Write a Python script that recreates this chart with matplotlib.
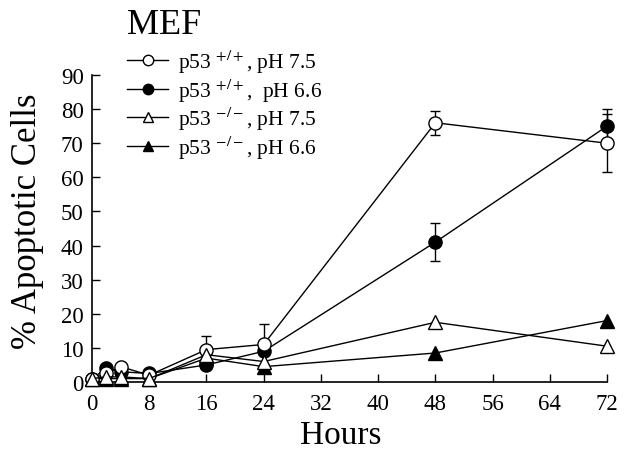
import matplotlib
matplotlib.use("Agg")
import matplotlib.pyplot as plt
from matplotlib.lines import Line2D

plt.rcParams['font.family'] = ['Liberation Serif', 'DejaVu Serif']
plt.rcParams['mathtext.fontset'] = 'stix'

hours = [0, 2, 4, 8, 16, 24, 48, 72]
wt_75 = [1, 2.5, 4.5, 2, 9.5, 11, 76, 70]
wt_75_err = [0, 0, 0, 0, 4, 6, 3.5, 8.5]
wt_66 = [1, 4, 3, 2.5, 5, 9, 41, 75]
wt_66_err = [0, 0, 0, 0, 0, 0, 5.5, 5]
ko_75 = [1, 1.5, 1.5, 1, 8, 6, 17.5, 10.5]
ko_66 = [1, 1, 1, 1, 7, 4.5, 8.5, 18]

labels = [r'p53 $^{+/+}$, pH 7.5', r'p53 $^{+/+}$,  pH 6.6',
          r'p53 $^{-/-}$, pH 7.5', r'p53 $^{-/-}$, pH 6.6']
xticks = [0, 8, 16, 24, 32, 40, 48, 56, 64, 72]
yticks = [0, 10, 20, 30, 40, 50, 60, 70, 80, 90]

W, H = 627, 452
fig = plt.figure(figsize=(W / 100, H / 100), dpi=100)
x0, x1, y0, y1 = 92, 607, 383, 76
ax = fig.add_axes([x0 / W, 1 - y0 / H, (x1 - x0) / W, (y0 - y1) / H])

ms = 9.5
common = dict(color='black', lw=1.0, markersize=ms, clip_on=False, markeredgewidth=1.0)
ax.errorbar(hours, wt_75, yerr=wt_75_err, fmt='-o', mfc='white', mec='black',
            ecolor='black', elinewidth=1.0, capsize=3.5, **common, zorder=4)
ax.errorbar(hours, wt_66, yerr=wt_66_err, fmt='-o', mfc='black', mec='black',
            ecolor='black', elinewidth=1.0, capsize=3.5, **common, zorder=3)
ax.plot(hours, ko_75, '-^', mfc='white', mec='black', **common, zorder=5)
ax.plot(hours, ko_66, '-^', mfc='black', mec='black', **common, zorder=2)

ax.set_xlim(0, 72)
ax.set_ylim(0, 90)
ax.set_xticks(xticks)
ax.set_yticks(yticks)
ax.tick_params(direction='in', length=6, width=1, labelsize=16.5)
ax.tick_params(axis='x', pad=8)
ax.tick_params(axis='y', pad=6)
for s in ['top', 'right']:
    ax.spines[s].set_visible(False)
for s in ['left', 'bottom']:
    ax.spines[s].set_linewidth(1.2)

fig.text(341 / W, 1 - 444 / H, 'Hours', fontsize=24, va='baseline', ha='center')
ax.set_ylabel('% Apoptotic Cells', fontsize=25)
ax.yaxis.set_label_coords((44 - x0) / (x1 - x0), (y0 - 221) / (y0 - y1))

fig.text(127 / W, 1 - 25 / H, 'MEF', fontsize=26, va='center', ha='left')

# legend entries
styles = [('o', 'white'), ('o', 'black'), ('^', 'white'), ('^', 'black')]
ys = [61, 90, 118, 147]
for (mk, fc), lab, yy in zip(styles, labels, ys):
    yf = 1 - yy / H
    fig.add_artist(Line2D([127 / W, 168 / W], [yf, yf], transform=fig.transFigure,
                          color='black', lw=1.0))
    fig.add_artist(Line2D([147.5 / W], [yf], transform=fig.transFigure, marker=mk,
                          mfc=fc, mec='black', markersize=7.5, color='black', lw=0))
    fig.text(178 / W, yf - 0.003, lab, fontsize=15.5, va='center', ha='left')

fig.savefig('out.png', dpi=100)
